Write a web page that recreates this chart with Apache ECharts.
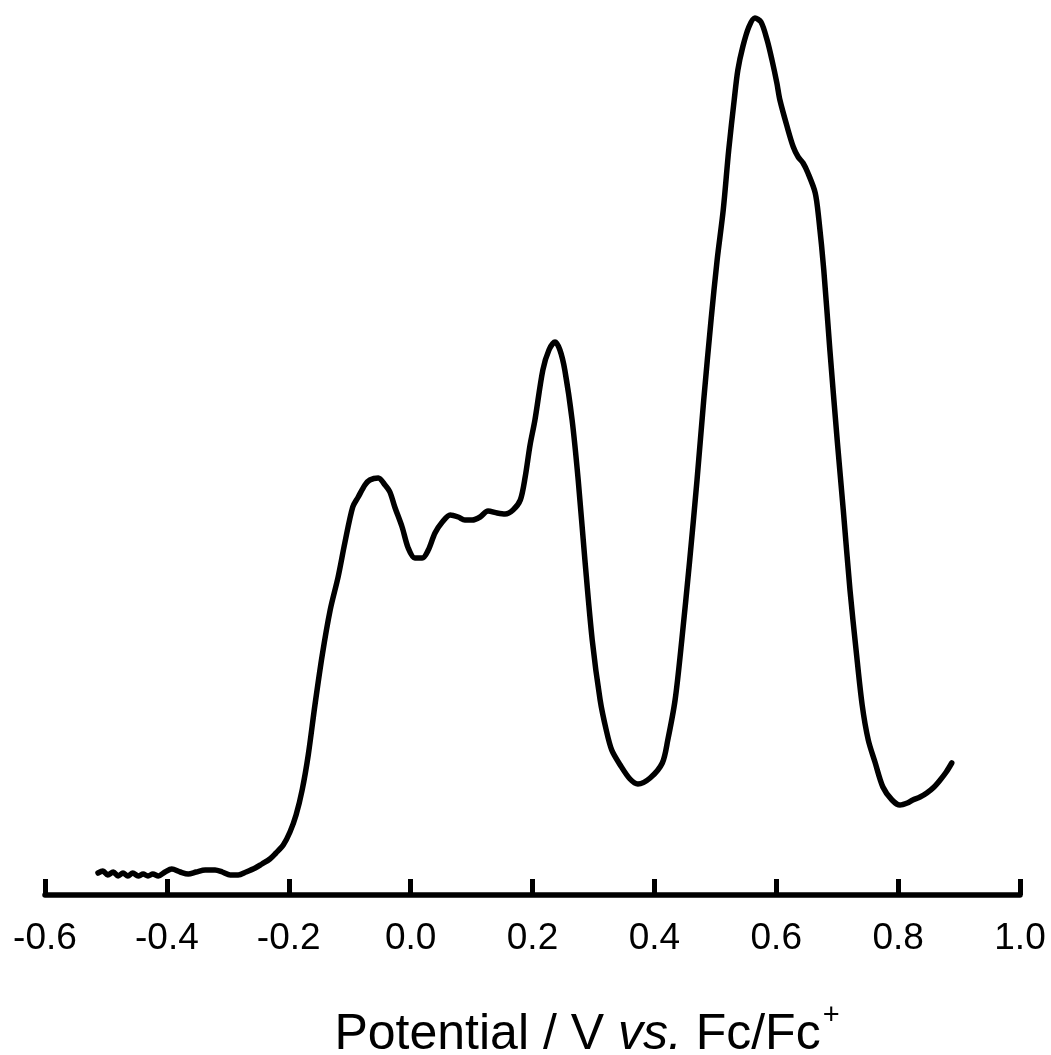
<!DOCTYPE html>
<html lang="en">
<head>
<meta charset="utf-8">
<title>Potential vs Fc/Fc+</title>
<style>
  html, body { margin: 0; padding: 0; background: #fff; }
  #chart { width: 1051px; height: 1055px; }
</style>
</head>
<body>
<div id="chart"></div>
<script src="https://cdn.jsdelivr.net/npm/echarts@6/dist/echarts.min.js"></script>
<script>
// potential (V vs. Fc/Fc+)
var potential = [
  -0.513, -0.505, -0.497, -0.488, -0.480, -0.472, -0.464, -0.456, -0.447, -0.439,
  -0.431, -0.423, -0.414, -0.403, -0.392, -0.378, -0.365, -0.352, -0.337, -0.321,
  -0.309, -0.296, -0.283, -0.270, -0.255, -0.244, -0.231, -0.221, -0.209, -0.198,
  -0.188, -0.178, -0.168, -0.157, -0.145, -0.132, -0.119, -0.108, -0.095, -0.086,
  -0.075, -0.067, -0.053, -0.042, -0.034, -0.026, -0.014, -0.004, 0.007, 0.019,
  0.029, 0.040, 0.052, 0.065, 0.078, 0.089, 0.101, 0.114, 0.127, 0.142,
  0.155, 0.168, 0.180, 0.188, 0.196, 0.204, 0.217, 0.227, 0.237, 0.245,
  0.253, 0.265, 0.275, 0.286, 0.298, 0.311, 0.321, 0.330, 0.344, 0.360,
  0.373, 0.393, 0.413, 0.422, 0.434, 0.445, 0.458, 0.470, 0.481, 0.493,
  0.503, 0.513, 0.522, 0.531, 0.537, 0.545, 0.555, 0.565, 0.575, 0.585,
  0.593, 0.601, 0.606, 0.618, 0.628, 0.636, 0.644, 0.652, 0.664, 0.670,
  0.678, 0.688, 0.700, 0.710, 0.721, 0.731, 0.741, 0.751, 0.762, 0.775,
  0.790, 0.803, 0.815, 0.824, 0.836, 0.847, 0.859, 0.869, 0.879, 0.888
];
// current, arbitrary units (no y axis in the figure)
var current = [
  2.2, 2.4, 2.0, 2.3, 1.9, 2.2, 1.9, 2.2, 1.9, 2.1,
  1.9, 2.1, 1.9, 2.3, 2.6, 2.3, 2.1, 2.3, 2.5, 2.5,
  2.3, 2.0, 2.0, 2.3, 2.7, 3.1, 3.6, 4.2, 5.0, 6.3,
  8.0, 10.5, 14.0, 19.0, 24.0, 28.5, 31.8, 35.2, 38.8, 39.8,
  41.0, 41.5, 41.7, 41.0, 40.3, 38.8, 36.8, 34.7, 33.7, 33.7,
  34.5, 36.2, 37.3, 38.0, 37.8, 37.5, 37.5, 37.8, 38.4, 38.2,
  38.1, 38.5, 39.5, 41.8, 45.0, 47.5, 52.5, 54.5, 55.3, 54.5,
  52.5, 47.5, 41.5, 33.5, 25.5, 19.5, 16.5, 14.5, 13.0, 11.6,
  11.1, 11.7, 13.2, 15.5, 19.5, 25.5, 33.5, 41.5, 49.5, 57.5,
  63.5, 68.5, 74.5, 79.5, 82.5, 84.8, 86.8, 87.7, 87.3, 85.5,
  83.5, 81.2, 79.5, 76.8, 74.8, 73.8, 73.2, 72.2, 70.2, 67.5,
  62.5, 54.5, 45.5, 38.5, 30.5, 24.5, 19.0, 15.5, 13.3, 10.8,
  9.5, 9.0, 9.2, 9.5, 9.8, 10.2, 10.8, 11.5, 12.3, 13.2
];
var xTicks = { min: -0.6, max: 1.0, step: 0.2 };

var seriesData = [];
for (var i = 0; i < potential.length; i++) {
  seriesData.push([potential[i], current[i]]);
}

var font = "'Liberation Sans', Arial, sans-serif";
var myChart = echarts.init(document.getElementById('chart'));
var option = {
  animation: false,
  backgroundColor: '#fff',
  grid: { left: 45, right: 31, top: 15, bottom: 160, outerBoundsMode: 'none', containLabel: false },
  xAxis: {
    type: 'value',
    min: xTicks.min,
    max: xTicks.max,
    interval: xTicks.step,
    splitLine: { show: false },
    axisLine: { lineStyle: { color: '#000', width: 5.5 } },
    axisTick: { inside: true, length: 16, lineStyle: { color: '#000', width: 5 } },
    axisLabel: {
      margin: 25,
      color: '#000',
      fontSize: 37,
      fontFamily: font,
      formatter: function (v) { return v.toFixed(1); }
    },
    name: '{n|Potential / V }{i|vs.}{n| Fc/Fc}{s|+}',
    nameLocation: 'middle',
    nameGap: 106,
    nameTextStyle: {
      padding: [0, 0, 0, 109],
      rich: {
        n: { fontSize: 50, fontFamily: font, color: '#000' },
        i: { fontSize: 50, fontFamily: font, fontStyle: 'italic', color: '#000' },
        s: { fontSize: 29, fontFamily: font, color: '#000', padding: [0, 0, 39, 2] }
      }
    }
  },
  yAxis: {
    type: 'value',
    min: 0,
    max: 88,
    show: false
  },
  series: [{
    type: 'line',
    data: seriesData,
    showSymbol: false,
    smooth: 0.3,
    lineStyle: { color: '#000', width: 5.5, join: 'round', cap: 'round' }
  }]
};
myChart.setOption(option);
</script>
</body>
</html>
